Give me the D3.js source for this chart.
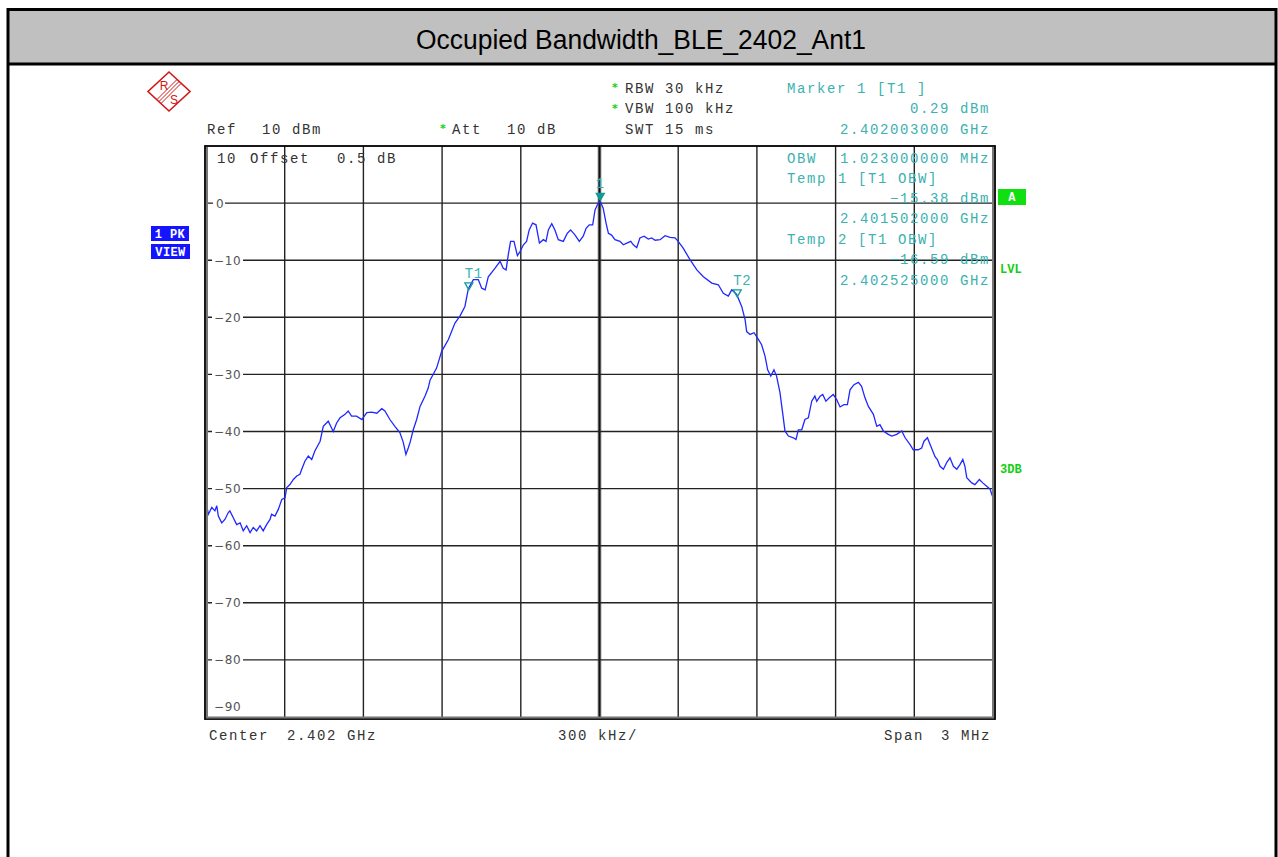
<!DOCTYPE html>
<html>
<head>
<meta charset="utf-8">
<script src="https://cdn.jsdelivr.net/npm/d3@7"></script>
<style>
  body { margin: 0; background: #fff; }
  .mono { font-family: "Liberation Mono", "DejaVu Sans Mono", monospace; font-size: 14px; letter-spacing: 1.6px; }
</style>
</head>
<body>
<div id="chart"></div>
<script>
// trace, frequency offset from center (kHz) and level (dBm)
var freqKHz = [
  -1500, -1491, -1478, -1466, -1459, -1453, -1440, -1428, -1415, -1409, -1396, -1383, -1370, -1358, -1345,
  -1332, -1320, -1307, -1294, -1282, -1269, -1256, -1250, -1237, -1224, -1218, -1211, -1199, -1192, -1180,
  -1167, -1154, -1142, -1135, -1123, -1110, -1097, -1085, -1065, -1053, -1034, -1015, -1002, -989, -970,
  -958, -945, -926, -906, -887, -868, -849, -830, -818, -799, -780, -761, -748, -738, -729,
  -722, -710, -697, -684, -665, -653, -646, -621, -602, -576, -551, -532, -513, -500, -481,
  -462, -449, -436, -424, -398, -379, -367, -356, -348, -339, -326, -313, -303, -290, -278,
  -268, -255, -242, -229, -214, -204, -195, -182, -170, -157, -138, -123, -110, -93, -77,
  -62, -51, -39, -26, -17, -5, 3, 14, 25, 34, 46, 59, 78, 91, 104,
  119, 129, 142, 154, 170, 186, 199, 212, 231, 250, 269, 288, 300, 319, 345,
  371, 396, 428, 453, 472, 491, 504, 523, 542, 555, 561, 574, 589, 602, 618,
  631, 641, 653, 665, 675, 688, 698, 707, 720, 739, 749, 758, 771, 783, 796,
  809, 821, 828, 841, 851, 863, 876, 891, 904, 917, 932, 945, 955, 970, 987,
  999, 1012, 1025, 1044, 1057, 1069, 1082, 1101, 1114, 1133, 1152, 1165, 1184, 1196, 1215,
  1228, 1237, 1250, 1263, 1279, 1288, 1298, 1311, 1324, 1336, 1349, 1362, 1374, 1385, 1393,
  1400, 1419, 1431, 1448, 1461, 1476, 1489, 1500
];
var levelDbm = [
  -52.2, -54.5, -53.3, -53.9, -53.0, -54.8, -56.0, -55.4, -54.2, -53.9, -55.1, -56.3, -56.0, -57.4, -56.5,
  -57.7, -56.8, -57.4, -56.5, -57.4, -56.3, -55.4, -54.5, -54.8, -53.6, -52.8, -51.9, -51.6, -49.8, -49.3,
  -48.4, -47.8, -47.5, -46.6, -45.2, -44.3, -44.9, -43.4, -41.7, -39.1, -38.2, -40.0, -38.5, -37.6, -37.0,
  -36.4, -37.3, -37.3, -37.9, -36.7, -36.6, -36.8, -36.0, -36.4, -37.9, -39.1, -40.2, -41.9, -44.0, -42.9,
  -41.9, -39.7, -37.9, -35.6, -33.8, -32.4, -31.0, -28.9, -26.0, -23.9, -21.0, -19.8, -18.1, -15.0, -13.4,
  -13.4, -14.9, -15.2, -12.9, -11.4, -10.2, -11.4, -11.7, -9.1, -6.7, -6.7, -9.2, -8.5, -7.3, -6.7,
  -4.7, -3.5, -3.8, -7.0, -6.4, -6.7, -4.7, -3.6, -4.7, -6.4, -6.7, -5.3, -4.7, -5.6, -6.7,
  -5.8, -4.4, -3.8, -3.8, -1.2, 0.0, 0.29, -0.9, -3.5, -5.3, -5.6, -6.4, -6.7, -7.3, -7.0,
  -6.7, -7.3, -7.8, -6.1, -5.8, -6.3, -6.1, -6.5, -6.4, -5.7, -6.0, -6.1, -6.7, -7.9, -9.9,
  -11.7, -12.9, -14.0, -14.3, -15.8, -16.3, -15.2, -16.0, -18.1, -20.4, -22.5, -23.0, -22.7, -23.6, -24.8,
  -26.8, -29.2, -30.3, -29.2, -30.3, -33.2, -36.7, -39.9, -40.8, -41.1, -41.4, -39.7, -39.7, -37.9, -37.6,
  -34.7, -33.8, -34.7, -33.8, -33.5, -34.7, -34.1, -33.5, -34.4, -35.7, -35.3, -35.3, -32.7, -31.8, -31.4,
  -32.1, -34.1, -35.6, -37.0, -39.1, -38.8, -39.9, -40.5, -40.8, -40.5, -39.9, -41.1, -42.3, -43.2, -43.2,
  -42.9, -41.7, -41.1, -42.6, -44.4, -44.9, -46.1, -46.6, -45.4, -44.6, -46.1, -46.6, -45.8, -44.9, -46.1,
  -48.1, -49.0, -49.3, -48.4, -49.0, -49.6, -50.1, -51.6
];

var yTicks = [0, -10, -20, -30, -40, -50, -60, -70, -80, -90];
var xGrid = [-1200, -900, -600, -300, 0, 300, 600, 900, 1200];

var markerName = ["1", "T1", "T2"];
var markerFreq = [3, -498, 525];
var markerLevel = [0.29, -15.38, -16.59];

var chartTitle = "Occupied Bandwidth_BLE_2402_Ant1";

var width = 1278, height = 857;
var plot = {left: 206, right: 993, top: 146, bottom: 717};

var svg = d3.select("#chart")
            .append("svg")
            .attr("width", width)
            .attr("height", height);

// outer page frame and title bar
svg.append("rect")
   .attr("x", 8).attr("y", 10).attr("width", 1268).attr("height", 53)
   .attr("fill", "#c0c0c0");
svg.append("path")
   .attr("d", "M8,870 V9.5 H1276 V870 M8,64 H1276")
   .attr("fill", "none").attr("stroke", "#000").attr("stroke-width", 3);
svg.append("text")
   .attr("x", 641).attr("y", 49)
   .attr("text-anchor", "middle")
   .attr("textLength", 450)
   .attr("lengthAdjust", "spacingAndGlyphs")
   .style("font-family", "'Liberation Sans', Arial, sans-serif")
   .style("font-size", "27px")
   .attr("fill", "#000")
   .text(chartTitle);

var xScale = d3.scaleLinear().domain([-1500, 1500]).range([plot.left, plot.right]);
var yScale = d3.scaleLinear().domain([-90, 10]).range([plot.bottom, plot.top]);

var g = svg.append("g");

// grid
g.selectAll("line.vgrid")
  .data(xGrid)
  .enter().append("line")
  .attr("class", "vgrid")
  .attr("x1", function(d) { return xScale(d); })
  .attr("x2", function(d) { return xScale(d); })
  .attr("y1", plot.top).attr("y2", plot.bottom)
  .attr("stroke", function(d) { return d == 0 ? "#555" : "#222"; })
  .attr("stroke-width", function(d) { return d == 0 ? 3.5 : 1.4; });

g.append("line")
  .attr("x1", xScale(0)).attr("x2", xScale(0))
  .attr("y1", plot.top).attr("y2", plot.bottom)
  .attr("stroke", "#111").attr("stroke-width", 1);

g.selectAll("line.hgrid")
  .data(yTicks.filter(function(d) { return d > -90; }))
  .enter().append("line")
  .attr("class", "hgrid")
  .attr("x1", plot.left).attr("x2", plot.right)
  .attr("y1", function(d) { return yScale(d); })
  .attr("y2", function(d) { return yScale(d); })
  .attr("stroke", "#222").attr("stroke-width", 1.4);

// y tick labels sit on the grid lines with a white gap; the bottom one sits above the frame
var tickG = g.selectAll("g.ytick")
  .data(yTicks)
  .enter().append("g")
  .attr("class", "ytick");

tickG.filter(function(d) { return d > -90; })
  .append("rect")
  .attr("x", function(d) { return d == 0 ? 213 : 212; })
  .attr("y", function(d) { return yScale(d) - 3; })
  .attr("width", function(d) { return d == 0 ? 12 : 31; })
  .attr("height", 6)
  .attr("fill", "#fff");

tickG.append("text")
  .attr("x", function(d) { return d == 0 ? 216 : 214; })
  .attr("y", function(d) { return d == -90 ? yScale(d) - 6 : yScale(d) + 4.5; })
  .style("font-family", "'DejaVu Sans', sans-serif")
  .style("font-size", "12px")
  .style("letter-spacing", "0.6px")
  .attr("fill", "#555")
  .text(function(d) { return d == 0 ? "0" : "\u2212" + Math.abs(d); });

// plot frame
svg.append("rect")
   .attr("x", 205).attr("y", 146).attr("width", 790).attr("height", 573)
   .attr("fill", "none").attr("stroke", "#000").attr("stroke-width", 1.8);
svg.append("path")
   .attr("d", "M207,147 V717.5 H993 V147")
   .attr("fill", "none").attr("stroke", "#777").attr("stroke-width", 2);

// trace
var trace = freqKHz.map(function(f, i) { return {f: f, v: levelDbm[i]}; });
var line = d3.line()
  .x(function(d) { return xScale(d.f); })
  .y(function(d) { return yScale(d.v); });

g.append("path")
  .datum(trace)
  .attr("d", line)
  .attr("fill", "none")
  .attr("stroke", "#1f28ff")
  .attr("stroke-width", 1.3);

// markers
var teal = "#3cb1b1";
var markers = markerName.map(function(n, i) { return {name: n, f: markerFreq[i], v: markerLevel[i]}; });
var mg = g.selectAll("g.marker")
  .data(markers)
  .enter().append("g")
  .attr("class", "marker")
  .attr("transform", function(d) { return "translate(" + xScale(d.f) + "," + yScale(d.v) + ")"; });

mg.append("path")
  .attr("d", "M-4,-8 L4,-8 L0,-1 Z")
  .attr("fill", function(d) { return d.name == "1" ? "#109a9a" : "none"; })
  .attr("stroke", "#109a9a")
  .attr("stroke-width", 1.3);

mg.append("text")
  .attr("class", "mono")
  .attr("x", function(d) { return d.name == "1" ? 0 : 5; })
  .attr("y", -13)
  .attr("text-anchor", "middle")
  .style("letter-spacing", "0.6px")
  .attr("fill", teal)
  .text(function(d) { return d.name; });

// header and info texts
function label(txt, x, y, color, anchor) {
  svg.append("text")
     .attr("class", "mono")
     .attr("x", x).attr("y", y)
     .attr("text-anchor", anchor || "start")
     .attr("xml:space", "preserve")
     .attr("fill", color)
     .text(txt);
}
var dark = "#333";
function star(x, y) {
  svg.append("text")
     .attr("x", x).attr("y", y)
     .style("font-family", "'DejaVu Sans', sans-serif")
     .style("font-size", "11px")
     .style("font-weight", "bold")
     .attr("fill", "#10d010")
     .text("*");
}

star(612, 91); label("RBW 30 kHz", 625, 92.5, dark);
star(612, 112); label("VBW 100 kHz", 625, 113, dark);
label("SWT 15 ms", 625, 133.5, dark);
label("Ref", 207, 133.5, dark); label("10", 262, 133.5, dark); label("dBm", 292, 133.5, dark);
star(440, 132); label("Att", 452, 133.5, dark); label("10", 507, 133.5, dark); label("dB", 537, 133.5, dark);

label("Marker 1 [T1 ]", 787, 92.5, teal);
label("0.29 dBm", 990, 113, teal, "end");
label("2.402003000 GHz", 990, 133.5, teal, "end");

label("10", 217, 162.5, dark); label("Offset", 250, 162.5, dark);
label("0.5", 337, 162.5, dark); label("dB", 377, 162.5, dark);

label("OBW", 787, 162.5, teal); label("1.023000000 MHz", 990, 162.5, teal, "end");
label("Temp", 787, 182.5, teal); label("1 [T1 OBW]", 838, 182.5, teal);
label("\u221215.38 dBm", 990, 202.5, teal, "end");
label("2.401502000 GHz", 990, 222.5, teal, "end");
label("Temp", 787, 243.5, teal); label("2 [T1 OBW]", 838, 243.5, teal);
label("\u221216.59 dBm", 990, 263.5, teal, "end");
label("2.402525000 GHz", 990, 284.5, teal, "end");

label("Center", 209, 739.5, dark); label("2.402 GHz", 287, 739.5, dark);
label("300 kHz/", 558, 739.5, dark);
label("Span", 884, 739.5, dark); label("3 MHz", 991, 739.5, dark, "end");

// side boxes
function box(txt, x, y, w, h, fill) {
  svg.append("rect").attr("x", x).attr("y", y).attr("width", w).attr("height", h).attr("fill", fill);
  svg.append("text")
     .attr("x", x + w / 2).attr("y", y + h / 2 + 4)
     .attr("text-anchor", "middle")
     .attr("xml:space", "preserve")
     .style("font-family", "'Liberation Mono', monospace")
     .style("font-size", "12px")
     .style("font-weight", "bold")
     .style("letter-spacing", "0.4px")
     .attr("fill", "#fff")
     .text(txt);
}
box("1 PK", 151, 226, 38, 15, "#1414ff");
box("VIEW", 151, 244, 39, 15, "#1414ff");
box("A", 998, 189, 28, 16, "#10e010");

function sideTag(txt, y) {
  svg.append("text")
     .attr("x", 1000).attr("y", y)
     .style("font-family", "'Liberation Mono', monospace")
     .style("font-size", "12px")
     .style("font-weight", "bold")
     .attr("fill", "#10d010")
     .text(txt);
}
sideTag("LVL", 273);
sideTag("3DB", 473);

// R&S logo
var logo = svg.append("g").attr("transform", "translate(169,91.5)");
logo.append("path")
    .attr("d", "M0,-19.5 L21,0 L0,19.5 L-21,0 Z")
    .attr("fill", "#fff").attr("stroke", "#d01818").attr("stroke-width", 1.6);
[-2, 0, 2].forEach(function(o) {
  logo.append("line")
      .attr("x1", -10 + o).attr("y1", 10 + o)
      .attr("x2", 10 + o).attr("y2", -10 + o)
      .attr("stroke", "#d01818").attr("stroke-width", 1);
});
logo.append("text").attr("x", -5).attr("y", -2).attr("text-anchor", "middle")
    .style("font-family", "'Liberation Sans', sans-serif").style("font-size", "12px")
    .attr("fill", "#d01818").text("R");
logo.append("text").attr("x", 5).attr("y", 12).attr("text-anchor", "middle")
    .style("font-family", "'Liberation Sans', sans-serif").style("font-size", "12px")
    .attr("fill", "#d01818").text("S");
</script>
</body>
</html>
